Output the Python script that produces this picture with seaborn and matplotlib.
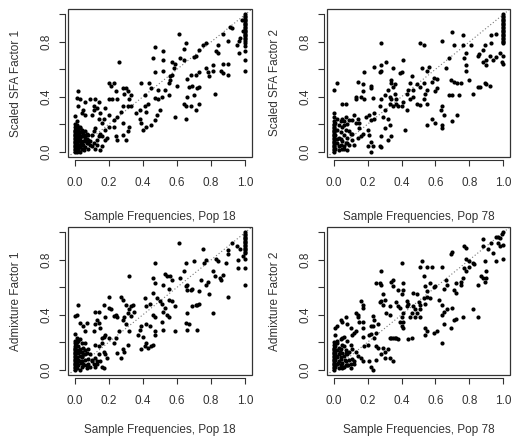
import matplotlib.pyplot as plt
import seaborn as sns
from matplotlib.patches import Rectangle

# --- panel 1: scaled SFA factor 1 vs sample frequencies, pop 18
sfa1_x = [
    1.0, 1.0, 1.0, 1.0, 1.0, 1.0, 1.0, 1.0, 1.0, 1.0,
    1.0, 1.0, 1.0, 1.0, 1.0, 1.0, 1.0, 1.0, 1.0, 1.0,
    1.0, 1.0, 1.0, 1.0, 1.0,
    0.965, 0.965, 0.95, 0.91, 0.92, 0.87, 0.90, 0.98, 0.97, 0.99,
    0.84, 0.84, 0.83, 0.81, 0.81, 0.77, 0.78, 0.79, 0.86, 0.87,
    0.90, 0.90, 0.87, 0.82, 0.75, 0.77, 0.73, 0.70, 0.71, 0.65,
    0.64, 0.61, 0.59, 0.64, 0.68, 0.71, 0.73, 0.66, 0.69, 0.72,
    0.67, 0.73, 0.70, 0.66, 0.65, 0.64, 0.68, 0.73, 0.71, 0.65,
    0.59,
    0.55, 0.56, 0.55, 0.53, 0.49, 0.47, 0.49, 0.51, 0.50, 0.48,
    0.47, 0.45, 0.445, 0.435, 0.47, 0.46, 0.47, 0.52, 0.52, 0.52,
    0.57, 0.56, 0.58, 0.57, 0.62, 0.60, 0.42, 0.40, 0.39, 0.38,
    0.36, 0.38, 0.42, 0.41, 0.43, 0.41, 0.39,
    0.26, 0.23, 0.20, 0.21, 0.24, 0.29, 0.28, 0.30, 0.31, 0.33,
    0.32, 0.33, 0.31, 0.28, 0.25, 0.22, 0.20, 0.18, 0.20, 0.23,
    0.25, 0.27, 0.28, 0.28, 0.31, 0.32, 0.24, 0.25, 0.30, 0.23,
    0.20, 0.18, 0.16, 0.17, 0.14, 0.15, 0.13, 0.11, 0.14, 0.12,
    0.09, 0.11, 0.10, 0.06, 0.05, 0.04, 0.06, 0.02, 0.01, 0.02,
    0.03,
    0.12, 0.11, 0.15, 0.14, 0.16, 0.13, 0.18, 0.19, 0.16, 0.15,
    0.10, 0.08, 0.07, 0.06, 0.05, 0.03, 0.07, 0.09, 0.04, 0.05,
    0.02, 0.01,
    0.0, 0.0, 0.0, 0.0, 0.0, 0.0, 0.0, 0.0, 0.0, 0.0,
    0.0, 0.0, 0.0, 0.0, 0.0, 0.0, 0.0, 0.0, 0.0, 0.0,
    0.01, 0.01, 0.01, 0.01, 0.01, 0.01, 0.02, 0.02, 0.02, 0.02,
    0.02, 0.03, 0.03, 0.03, 0.03, 0.04, 0.04, 0.04, 0.05, 0.05,
    0.06, 0.06, 0.07, 0.08, 0.08, 0.09, 0.10, 0.11, 0.12, 0.13,
    0.005, 0.015, 0.025, 0.035, 0.01, 0.02, 0.03, 0.005, 0.015, 0.025,
    0.04, 0.05, 0.06, 0.03, 0.02, 0.01, 0.045, 0.055, 0.065, 0.075,
]
sfa1_y = [
    1.00, 0.99, 0.98, 0.97, 0.96, 0.95, 0.94, 0.93, 0.92, 0.91,
    0.90, 0.89, 0.88, 0.87, 0.86, 0.85, 0.84, 0.83, 0.82, 0.81,
    0.79, 0.77, 0.73, 0.67, 0.59,
    0.81, 0.72, 0.78, 0.91, 0.90, 0.86, 0.81, 0.96, 0.83, 0.88,
    0.78, 0.72, 0.73, 0.63, 0.59, 0.61, 0.58, 0.55, 0.59, 0.57,
    0.56, 0.64, 0.64, 0.42, 0.78, 0.79, 0.74, 0.69, 0.70, 0.79,
    0.75, 0.86, 0.64, 0.67, 0.56, 0.56, 0.58, 0.53, 0.48, 0.46,
    0.47, 0.47, 0.41, 0.40, 0.33, 0.35, 0.33, 0.35, 0.30, 0.24,
    0.25,
    0.50, 0.52, 0.41, 0.45, 0.45, 0.39, 0.38, 0.40, 0.30, 0.27,
    0.23, 0.19, 0.46, 0.50, 0.58, 0.68, 0.76, 0.73, 0.67, 0.59,
    0.65, 0.55, 0.61, 0.56, 0.68, 0.48, 0.18, 0.16, 0.21, 0.24,
    0.28, 0.30, 0.29, 0.33, 0.35, 0.41, 0.50,
    0.65, 0.50, 0.50, 0.48, 0.44, 0.42, 0.46, 0.46, 0.44, 0.41,
    0.38, 0.33, 0.33, 0.33, 0.38, 0.38, 0.38, 0.32, 0.27, 0.23,
    0.25, 0.29, 0.21, 0.12, 0.15, 0.18, 0.11, 0.085, 0.085, 0.18,
    0.18, 0.16, 0.21, 0.24, 0.24, 0.28, 0.32, 0.33, 0.36, 0.38,
    0.38, 0.30, 0.27, 0.36, 0.30, 0.28, 0.27, 0.33, 0.39, 0.44,
    0.38,
    0.17, 0.15, 0.13, 0.11, 0.11, 0.085, 0.085, 0.10, 0.04, 0.01,
    0.12, 0.085, 0.06, 0.10, 0.13, 0.18, 0.13, 0.05, 0.07, 0.02,
    0.02, 0.06,
    0.00, 0.01, 0.02, 0.03, 0.04, 0.05, 0.06, 0.07, 0.08, 0.09,
    0.10, 0.11, 0.12, 0.13, 0.14, 0.15, 0.16, 0.18, 0.20, 0.26,
    0.00, 0.03, 0.08, 0.12, 0.15, 0.19, 0.01, 0.05, 0.09, 0.13,
    0.16, 0.00, 0.04, 0.10, 0.14, 0.02, 0.11, 0.16, 0.05, 0.08,
    0.03, 0.15, 0.09, 0.02, 0.12, 0.08, 0.04, 0.06, 0.02, 0.05,
    0.06, 0.07, 0.12, 0.06, 0.17, 0.18, 0.08, 0.13, 0.10, 0.03,
    0.05, 0.12, 0.08, 0.17, 0.11, 0.22, 0.14, 0.01, 0.12, 0.06,
]

# --- panel 2: scaled SFA factor 2 vs sample frequencies, pop 78
sfa2_x = [
    1.0, 1.0, 1.0, 1.0, 1.0, 1.0, 1.0, 1.0, 1.0, 1.0,
    1.0, 1.0, 1.0, 1.0, 1.0, 1.0, 1.0, 1.0, 1.0, 1.0,
    1.0, 1.0, 1.0, 1.0,
    0.99, 0.98, 0.96, 0.93, 0.93, 0.96, 0.94, 0.92, 0.90, 0.88,
    0.90, 0.85, 0.855, 0.89, 0.88, 0.81, 0.78, 0.77, 0.76, 0.76,
    0.78, 0.78, 0.80, 0.82, 0.85, 0.86, 0.89, 0.90, 0.92, 0.71,
    0.70, 0.64, 0.68, 0.66, 0.69, 0.71, 0.73, 0.75, 0.70, 0.74,
    0.68, 0.73, 0.70, 0.65, 0.64, 0.63, 0.64, 0.64, 0.60, 0.58,
    0.60, 0.61, 0.61, 0.59, 0.56, 0.55, 0.58, 0.55, 0.54, 0.53,
    0.55, 0.55, 0.51, 0.53, 0.52, 0.53, 0.51, 0.49, 0.47, 0.46,
    0.45, 0.47, 0.49, 0.51, 0.45, 0.44, 0.43, 0.43, 0.42, 0.41,
    0.40, 0.39, 0.36, 0.35, 0.34, 0.35, 0.34, 0.36, 0.37, 0.37,
    0.38, 0.40, 0.41, 0.35, 0.33, 0.34, 0.33, 0.32, 0.33, 0.34,
    0.32, 0.28, 0.30, 0.29, 0.30, 0.27, 0.28, 0.30, 0.32, 0.31,
    0.28, 0.28, 0.27, 0.28, 0.24, 0.22, 0.22, 0.23, 0.24, 0.24,
    0.22, 0.21, 0.19, 0.18, 0.16, 0.14, 0.17, 0.18, 0.17, 0.13,
    0.13, 0.13, 0.15, 0.14, 0.12, 0.11, 0.15, 0.17, 0.16, 0.14,
    0.11, 0.09, 0.20, 0.21, 0.22, 0.23, 0.20, 0.22, 0.27, 0.28,
    0.07, 0.05, 0.02, 0.00, 0.07, 0.05, 0.06, 0.11, 0.12, 0.08,
    0.06,
    0.0, 0.0, 0.0, 0.0, 0.0, 0.0, 0.0, 0.0, 0.0, 0.0,
    0.0, 0.0, 0.0, 0.0, 0.0, 0.0, 0.0, 0.0, 0.0, 0.0,
    0.0, 0.0, 0.0, 0.0,
    0.01, 0.01, 0.01, 0.02, 0.02, 0.02, 0.03, 0.03, 0.03, 0.04,
    0.04, 0.04, 0.05, 0.05, 0.06, 0.06, 0.07, 0.07, 0.08, 0.08,
    0.09, 0.10, 0.03, 0.05, 0.02, 0.04, 0.06, 0.09, 0.01, 0.08,
]
sfa2_y = [
    1.00, 0.99, 0.98, 0.97, 0.96, 0.95, 0.94, 0.93, 0.92, 0.91,
    0.90, 0.89, 0.88, 0.87, 0.86, 0.85, 0.84, 0.83, 0.82, 0.81,
    0.80, 0.79, 0.70, 0.64,
    0.65, 0.72, 0.86, 0.85, 0.79, 0.69, 0.67, 0.70, 0.67, 0.65,
    0.63, 0.70, 0.71, 0.78, 0.74, 0.78, 0.72, 0.68, 0.78, 0.85,
    0.63, 0.59, 0.52, 0.42, 0.47, 0.47, 0.50, 0.49, 0.48, 0.78,
    0.87, 0.81, 0.68, 0.61, 0.52, 0.51, 0.50, 0.50, 0.41, 0.41,
    0.41, 0.27, 0.22, 0.27, 0.33, 0.30, 0.19, 0.17, 0.21, 0.24,
    0.44, 0.46, 0.53, 0.54, 0.62, 0.59, 0.51, 0.45, 0.42, 0.38,
    0.35, 0.19, 0.79, 0.78, 0.61, 0.50, 0.47, 0.49, 0.45, 0.55,
    0.50, 0.40, 0.35, 0.34, 0.38, 0.45, 0.42, 0.30, 0.16, 0.67,
    0.58, 0.57, 0.49, 0.47, 0.50, 0.61, 0.52, 0.42, 0.38, 0.35,
    0.33, 0.33, 0.36, 0.33, 0.40, 0.38, 0.35, 0.24, 0.19, 0.11,
    0.085, 0.11, 0.17, 0.25, 0.30, 0.33, 0.38, 0.41, 0.45, 0.65,
    0.63, 0.59, 0.58, 0.79, 0.62, 0.48, 0.46, 0.39, 0.28, 0.24,
    0.23, 0.27, 0.25, 0.38, 0.40, 0.51, 0.49, 0.58, 0.44, 0.40,
    0.38, 0.21, 0.21, 0.24, 0.27, 0.23, 0.17, 0.13, 0.11, 0.10,
    0.13, 0.15, 0.16, 0.12, 0.07, 0.04, 0.04, 0.00, 0.04, 0.03,
    0.35, 0.35, 0.50, 0.45, 0.25, 0.24, 0.22, 0.085, 0.05, 0.06,
    0.04,
    0.00, 0.01, 0.02, 0.03, 0.04, 0.05, 0.06, 0.07, 0.08, 0.09,
    0.10, 0.11, 0.12, 0.13, 0.14, 0.15, 0.16, 0.17, 0.18, 0.19,
    0.20, 0.22, 0.25, 0.28,
    0.02, 0.12, 0.21, 0.06, 0.16, 0.24, 0.01, 0.10, 0.19, 0.05,
    0.14, 0.22, 0.08, 0.18, 0.02, 0.12, 0.06, 0.16, 0.10, 0.01,
    0.05, 0.13, 0.04, 0.02, 0.09, 0.09, 0.19, 0.23, 0.16, 0.20,
]

# --- panel 3: admixture factor 1 vs sample frequencies, pop 18
adm1_x = [
    1.0, 1.0, 1.0, 1.0, 1.0, 1.0, 1.0, 1.0, 1.0, 1.0,
    1.0, 1.0, 1.0, 1.0, 1.0, 1.0, 1.0, 1.0, 1.0,
    0.99, 0.96, 0.97, 0.95, 0.96, 0.92, 0.90, 0.90, 0.89, 0.87,
    0.86, 0.85, 0.90, 0.83, 0.84, 0.81, 0.82, 0.77, 0.76, 0.75,
    0.78, 0.77, 0.79, 0.81, 0.74, 0.73, 0.70, 0.69, 0.68, 0.65,
    0.64, 0.61, 0.62, 0.65, 0.66, 0.66, 0.69, 0.72, 0.71, 0.73,
    0.66, 0.65, 0.67, 0.66, 0.72, 0.59, 0.59, 0.57, 0.55, 0.57,
    0.56, 0.53, 0.54, 0.52, 0.55, 0.47, 0.46, 0.47, 0.46, 0.48,
    0.50, 0.51, 0.53, 0.52, 0.54, 0.55, 0.51, 0.52, 0.47, 0.46,
    0.47, 0.47, 0.46, 0.45, 0.42, 0.41, 0.43, 0.39, 0.44, 0.42,
    0.39, 0.38, 0.37, 0.40, 0.42, 0.44, 0.41, 0.35, 0.34, 0.33,
    0.32, 0.31, 0.33, 0.32, 0.30, 0.27, 0.28, 0.24, 0.25, 0.23,
    0.29, 0.28, 0.30, 0.32, 0.26, 0.24, 0.23, 0.28, 0.29, 0.31,
    0.25, 0.27, 0.20, 0.20, 0.21, 0.17, 0.18, 0.17, 0.18, 0.16,
    0.20, 0.15, 0.14, 0.12, 0.13, 0.12, 0.14, 0.11, 0.12, 0.14,
    0.16, 0.14, 0.17, 0.18, 0.19, 0.15, 0.12, 0.10, 0.13, 0.16,
    0.17, 0.06, 0.05, 0.03, 0.07, 0.02, 0.01, 0.06, 0.05, 0.06,
    0.04, 0.08, 0.07,
    0.0, 0.0, 0.0, 0.0, 0.0, 0.0, 0.0, 0.0, 0.0, 0.0,
    0.0, 0.0, 0.0, 0.0, 0.0, 0.0, 0.0, 0.0, 0.0, 0.0,
    0.0, 0.0,
    0.01, 0.01, 0.01, 0.01, 0.01, 0.02, 0.02, 0.02, 0.02, 0.03,
    0.03, 0.03, 0.03, 0.04, 0.04, 0.04, 0.05, 0.05, 0.06, 0.06,
    0.07, 0.07, 0.08, 0.09, 0.10, 0.11, 0.005, 0.015, 0.025, 0.035,
    0.045, 0.055, 0.02, 0.03, 0.01, 0.04, 0.08, 0.09, 0.12, 0.13,
]
adm1_y = [
    1.00, 0.99, 0.98, 0.97, 0.96, 0.95, 0.94, 0.93, 0.92, 0.91,
    0.90, 0.89, 0.88, 0.87, 0.86, 0.85, 0.81, 0.74, 0.62,
    0.83, 0.80, 0.88, 0.90, 0.74, 0.92, 0.87, 0.84, 0.78, 0.69,
    0.65, 0.67, 0.53, 0.81, 0.79, 0.72, 0.68, 0.80, 0.78, 0.88,
    0.64, 0.62, 0.55, 0.41, 0.65, 0.57, 0.79, 0.59, 0.58, 0.78,
    0.72, 0.92, 0.67, 0.61, 0.62, 0.58, 0.46, 0.47, 0.47, 0.48,
    0.41, 0.34, 0.33, 0.29, 0.29, 0.46, 0.28, 0.50, 0.51, 0.65,
    0.68, 0.70, 0.68, 0.62, 0.59, 0.78, 0.67, 0.63, 0.56, 0.52,
    0.50, 0.48, 0.45, 0.42, 0.40, 0.38, 0.35, 0.29, 0.38, 0.40,
    0.28, 0.25, 0.18, 0.17, 0.19, 0.17, 0.16, 0.15, 0.32, 0.33,
    0.32, 0.29, 0.25, 0.24, 0.46, 0.48, 0.52, 0.42, 0.47, 0.46,
    0.44, 0.41, 0.39, 0.68, 0.47, 0.53, 0.51, 0.40, 0.38, 0.39,
    0.38, 0.36, 0.33, 0.28, 0.28, 0.23, 0.19, 0.15, 0.13, 0.18,
    0.12, 0.085, 0.53, 0.45, 0.44, 0.47, 0.38, 0.24, 0.25, 0.23,
    0.23, 0.30, 0.42, 0.42, 0.36, 0.33, 0.34, 0.28, 0.18, 0.17,
    0.19, 0.11, 0.13, 0.11, 0.085, 0.06, 0.085, 0.07, 0.04, 0.02,
    0.01, 0.28, 0.32, 0.34, 0.34, 0.47, 0.40, 0.19, 0.16, 0.11,
    0.06, 0.04, 0.01,
    0.00, 0.01, 0.02, 0.03, 0.04, 0.05, 0.06, 0.07, 0.08, 0.09,
    0.10, 0.11, 0.12, 0.13, 0.14, 0.15, 0.16, 0.17, 0.19, 0.21,
    0.26, 0.39,
    0.01, 0.05, 0.09, 0.14, 0.20, 0.03, 0.07, 0.12, 0.17, 0.00,
    0.06, 0.10, 0.15, 0.02, 0.09, 0.13, 0.04, 0.11, 0.07, 0.14,
    0.03, 0.12, 0.08, 0.02, 0.06, 0.04, 0.18, 0.08, 0.13, 0.05,
    0.10, 0.03, 0.21, 0.22, 0.23, 0.19, 0.15, 0.11, 0.02, 0.06,
]

# --- panel 4: admixture factor 2 vs sample frequencies, pop 78
adm2_x = [
    1.00, 0.99, 0.98, 0.97, 0.96, 0.97, 1.00, 0.98, 1.00, 0.96,
    0.93, 0.94, 0.91, 0.88, 0.88, 0.89, 0.90, 0.90, 0.88, 0.87,
    0.89, 0.85, 0.85, 0.82, 0.83, 0.82, 0.80, 0.78, 0.77, 0.78,
    0.80, 0.78, 0.77, 0.76, 0.75, 0.75, 0.72, 0.71, 0.72, 0.70,
    0.69, 0.64, 0.66, 0.67, 0.65, 0.62, 0.64, 0.64, 0.65, 0.67,
    0.70, 0.71, 0.72, 0.76, 0.69, 0.65, 0.64, 0.61, 0.59, 0.60,
    0.59, 0.57, 0.55, 0.58, 0.55, 0.52, 0.51, 0.53, 0.54, 0.55,
    0.53, 0.57, 0.54, 0.51, 0.49, 0.47, 0.50, 0.47, 0.48, 0.49,
    0.46, 0.45, 0.48, 0.51, 0.51, 0.54, 0.55, 0.54, 0.46, 0.41,
    0.40, 0.41, 0.39, 0.40, 0.41, 0.43, 0.43, 0.44, 0.41, 0.40,
    0.38, 0.37, 0.38, 0.39, 0.41, 0.40, 0.35, 0.35, 0.34, 0.33,
    0.33, 0.31, 0.30, 0.29, 0.28, 0.27, 0.29, 0.28, 0.27, 0.28,
    0.25, 0.23, 0.24, 0.26, 0.23, 0.22, 0.21, 0.22, 0.25, 0.24,
    0.25, 0.26, 0.29, 0.30, 0.28, 0.32, 0.33, 0.34, 0.35, 0.36,
    0.37, 0.38, 0.44, 0.33, 0.30, 0.35, 0.25, 0.21, 0.22, 0.23,
    0.20, 0.18, 0.17, 0.17, 0.17, 0.16, 0.17, 0.17, 0.14, 0.13,
    0.14, 0.15, 0.13, 0.12, 0.11, 0.10, 0.08, 0.07, 0.05, 0.04,
    0.02, 0.01, 0.01, 0.05, 0.06, 0.08, 0.10, 0.11, 0.13, 0.14,
    0.16, 0.17, 0.12, 0.10, 0.07, 0.05,
    0.0, 0.0, 0.0, 0.0, 0.0, 0.0, 0.0, 0.0, 0.0, 0.0,
    0.0, 0.0, 0.0, 0.0, 0.0, 0.0, 0.0, 0.0, 0.0,
    0.01, 0.01, 0.01, 0.01, 0.02, 0.02, 0.02, 0.02, 0.03, 0.03,
    0.03, 0.04, 0.04, 0.04, 0.05, 0.05, 0.06, 0.06, 0.07, 0.07,
    0.08, 0.08, 0.09, 0.09, 0.10, 0.11, 0.12, 0.03, 0.05, 0.015,
    0.025, 0.035, 0.045, 0.055, 0.065, 0.075, 0.085, 0.02, 0.04, 0.06,
]
adm2_y = [
    1.00, 0.99, 0.96, 0.97, 0.97, 0.92, 0.91, 0.90, 0.81, 0.79,
    0.92, 0.85, 0.88, 0.95, 0.90, 0.79, 0.72, 0.67, 0.67, 0.68,
    0.64, 0.62, 0.38, 0.44, 0.77, 0.78, 0.79, 0.81, 0.90, 0.89,
    0.75, 0.72, 0.74, 0.67, 0.64, 0.62, 0.63, 0.58, 0.56, 0.86,
    0.84, 0.75, 0.65, 0.62, 0.59, 0.51, 0.47, 0.40, 0.42, 0.44,
    0.45, 0.36, 0.37, 0.38, 0.30, 0.33, 0.19, 0.28, 0.27, 0.61,
    0.60, 0.63, 0.57, 0.75, 0.75, 0.79, 0.75, 0.68, 0.61, 0.53,
    0.52, 0.52, 0.48, 0.47, 0.55, 0.56, 0.49, 0.46, 0.44, 0.41,
    0.41, 0.38, 0.38, 0.38, 0.44, 0.30, 0.28, 0.25, 0.23, 0.30,
    0.32, 0.35, 0.35, 0.38, 0.41, 0.46, 0.50, 0.48, 0.58, 0.55,
    0.58, 0.49, 0.46, 0.45, 0.63, 0.78, 0.61, 0.65, 0.64, 0.46,
    0.40, 0.41, 0.51, 0.55, 0.50, 0.49, 0.47, 0.72, 0.63, 0.62,
    0.63, 0.39, 0.36, 0.33, 0.32, 0.32, 0.25, 0.26, 0.27, 0.23,
    0.17, 0.16, 0.16, 0.13, 0.11, 0.15, 0.23, 0.23, 0.23, 0.23,
    0.23, 0.22, 0.22, 0.085, 0.085, 0.06, 0.07, 0.06, 0.02, 0.00,
    0.18, 0.17, 0.24, 0.30, 0.35, 0.50, 0.47, 0.45, 0.40, 0.41,
    0.38, 0.35, 0.28, 0.27, 0.25, 0.30, 0.33, 0.38, 0.35, 0.36,
    0.32, 0.30, 0.25, 0.23, 0.24, 0.21, 0.18, 0.15, 0.13, 0.10,
    0.085, 0.06, 0.06, 0.04, 0.03, 0.01,
    0.00, 0.01, 0.02, 0.03, 0.04, 0.05, 0.06, 0.07, 0.08, 0.09,
    0.10, 0.11, 0.12, 0.13, 0.14, 0.15, 0.16, 0.18, 0.20,
    0.02, 0.07, 0.12, 0.17, 0.04, 0.09, 0.14, 0.19, 0.01, 0.06,
    0.11, 0.03, 0.08, 0.15, 0.05, 0.12, 0.02, 0.10, 0.06, 0.14,
    0.03, 0.11, 0.07, 0.13, 0.01, 0.08, 0.04, 0.16, 0.18, 0.10,
    0.05, 0.13, 0.09, 0.02, 0.07, 0.12, 0.03, 0.21, 0.22, 0.17,
]

panels = [
    (sfa1_x, sfa1_y, "Sample Frequencies, Pop 18", "Scaled SFA Factor 1"),
    (sfa2_x, sfa2_y, "Sample Frequencies, Pop 78", "Scaled SFA Factor 2"),
    (adm1_x, adm1_y, "Sample Frequencies, Pop 18", "Admixture Factor 1"),
    (adm2_x, adm2_y, "Sample Frequencies, Pop 78", "Admixture Factor 2"),
]

sns.set_style("white")
plt.rcParams['font.family'] = ['Liberation Sans', 'DejaVu Sans']
plt.rcParams['font.size'] = 8.5

W, H = 514, 438
# axes boxes in pixels (left, top, right, bottom) and gap to the x label
boxes = [(68, 9, 252, 157), (327, 9, 510, 157),
         (68, 227, 252, 375), (327, 227, 510, 375)]
xlab_gap = [54, 54, 49, 49]

fig = plt.figure(figsize=(W / 100, H / 100), dpi=100)
txt = "#333333"

for (xs, ys, xl, yl), (l, t, r, b), gap in zip(panels, boxes, xlab_gap):
    ax = fig.add_axes([l / W, 1 - b / H, (r - l) / W, (b - t) / H])
    ax.axline((0, 0), slope=1, color="#777777", lw=0.8, ls=(0, (1, 2)), zorder=1)
    sns.scatterplot(x=xs, y=ys, ax=ax, s=9, color="black", linewidth=0, zorder=2)
    ax.set_xlim(-0.04, 1.04)
    ax.set_ylim(-0.04, 1.04)

    ax.set_xticks([0, 0.2, 0.4, 0.6, 0.8, 1.0])
    ax.set_xticklabels(["0.0", "0.2", "0.4", "0.6", "0.8", "1.0"])
    ax.set_yticks([0, 0.2, 0.4, 0.6, 0.8, 1.0])
    ax.set_yticklabels(["0.0", "", "0.4", "", "0.8", ""])

    # R style: box around the plot, axis lines drawn just outside it
    for side in ["left", "bottom"]:
        ax.spines[side].set_position(("outward", 2))
        ax.spines[side].set_bounds(0, 1)
        ax.spines[side].set_color(txt)
        ax.spines[side].set_linewidth(0.8)
    for side in ["top", "right"]:
        ax.spines[side].set_visible(False)
    ax.add_patch(Rectangle((0, 0), 1, 1, transform=ax.transAxes, fill=False,
                           edgecolor=txt, lw=0.9, clip_on=False, zorder=5))

    ax.tick_params(axis="both", direction="out", length=4.5, width=0.8,
                   color=txt, labelcolor=txt, labelsize=8.5,
                   bottom=True, left=True)
    ax.tick_params(axis="x", pad=8)
    ax.tick_params(axis="y", pad=5, labelrotation=90)
    for lab in ax.get_yticklabels():
        lab.set_va("center")

    ax.set_xlabel(xl, color=txt, fontsize=8.5)
    ax.set_ylabel(yl, color=txt, fontsize=8.5)
    ax.xaxis.set_label_coords(0.5, -gap / (b - t))
    ax.yaxis.set_label_coords(-46 / (r - l), 0.5)

fig.savefig("out.png", dpi=100)
